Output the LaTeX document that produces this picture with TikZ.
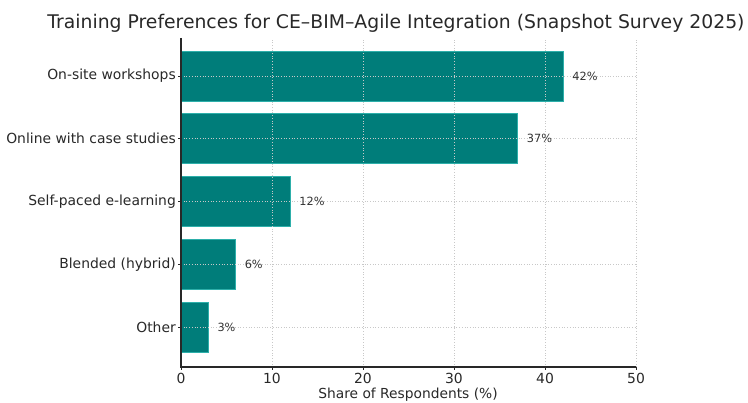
\documentclass[tikz,border=0pt]{standalone}
\usepackage{fontspec}
\setmainfont{DejaVu Sans}
\begin{document}
\begin{tikzpicture}[x=1pt,y=1pt,
  bar/.style={fill={rgb,255:red,0;green,125;blue,122}, draw={rgb,255:red,45;green,175;blue,170}, line width=0.8pt},
  gridline/.style={draw={rgb,255:red,200;green,200;blue,200}, dotted, line width=0.7pt},
  spine/.style={draw={rgb,255:red,40;green,40;blue,40}, line width=1.1pt},
  tickmark/.style={draw={rgb,255:red,40;green,40;blue,40}, line width=0.8pt},
  cat/.style={anchor=east, font=\fontsize{13.9}{16}\selectfont, text={rgb,255:red,40;green,40;blue,40}, inner sep=0pt},
  xtick/.style={anchor=north, font=\fontsize{13.9}{16}\selectfont, text={rgb,255:red,40;green,40;blue,40}, inner sep=0pt},
  val/.style={anchor=west, font=\fontsize{11.3}{13}\selectfont, text={rgb,255:red,50;green,50;blue,50}, inner sep=0pt}]
\useasboundingbox (0,0) rectangle (748,403);
% axes geometry: x = 181 + 9.1*value, category rows 62.8 apart
\def\xz{181}
\def\xs{9.1}
\def\ybot{36}
\def\ytop{365}
% bars
\foreach \v/\yc [count=\i] in {42/327,37/264.2,12/201.4,6/138.6,3/75.8}{
  \draw[bar] (\xz,\yc-25) rectangle (\xz+\xs*\v,\yc+25);
}
% grid on top of bars
\foreach \g in {10,20,30,40,50}{
  \draw[gridline] (\xz+\xs*\g,\ybot) -- (\xz+\xs*\g,\ytop);
}
\foreach \yc in {327,264.2,201.4,138.6,75.8}{
  \draw[gridline] (\xz,\yc) -- (\xz+\xs*50,\yc);
}
% spines
\coordinate (origin) at (\xz,\ybot);
\coordinate (ytopend) at (\xz,\ytop);
\coordinate (xend) at (\xz+\xs*50,\ybot);
\draw[spine] (ytopend) -- (origin) -- (xend);
% x ticks
\foreach \g in {0,10,20,30,40,50}{
  \draw[tickmark] (\xz+\xs*\g,\ybot) -- (\xz+\xs*\g,\ybot-3.5);
  \node[xtick] (xt\g) at (\xz+\xs*\g,\ybot-6) {\g};
}
% categories
\foreach \name/\yc [count=\i] in {On-site workshops/327,Online with case studies/264.2,Self-paced e-learning/201.4,Blended (hybrid)/138.6,Other/75.8}{
  \draw[tickmark] (\xz,\yc) -- (\xz-3,\yc);
  \node[cat] (c\i) at (\xz-5,\yc) {\name};
}
% value labels
\foreach \v/\yc [count=\i] in {42/327,37/264.2,12/201.4,6/138.6,3/75.8}{
  \node[val] (v\i) at (\xz+\xs*\v+9,\yc) {\v\%};
}
% axis label and title
\node[font=\fontsize{13.8}{16}\selectfont, text={rgb,255:red,40;green,40;blue,40}] (xlabel) at (408,8) {Share of Respondents (\%)};
\node[font=\fontsize{18.8}{21}\selectfont, text={rgb,255:red,40;green,40;blue,40}] (title) at (396,380) {Training Preferences for CE–BIM–Agile Integration (Snapshot Survey 2025)};
\end{tikzpicture}
\end{document}
